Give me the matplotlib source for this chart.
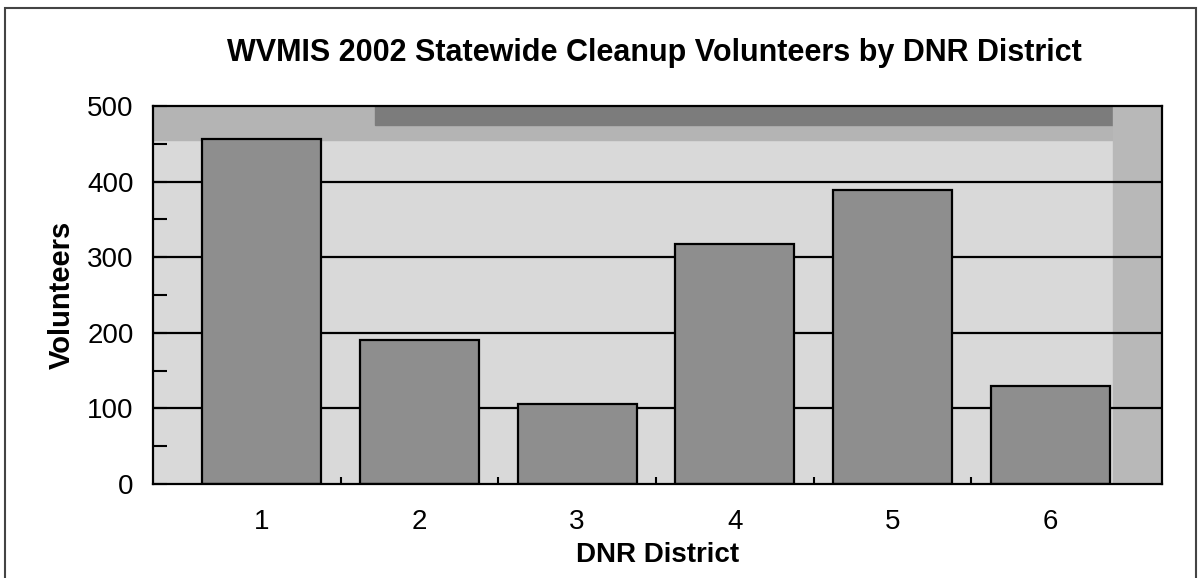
import matplotlib.pyplot as plt
from matplotlib.patches import Rectangle
from matplotlib.ticker import MultipleLocator, FixedLocator

districts = [1, 2, 3, 4, 5, 6]
volunteers = [457, 190, 106, 318, 389, 130]
yticks = [0, 100, 200, 300, 400, 500]

plt.rcParams['font.family'] = ['Liberation Sans', 'DejaVu Sans']

fig = plt.figure(figsize=(12.01, 5.78), dpi=100)
ax = fig.add_axes([0.1274, 0.1626, 0.8401, 0.654])

# background wall, faded grey like the scanned original
ax.set_facecolor('#d9d9d9')
ax.axhspan(455, 500, color='#b4b4b4', zorder=0)
ax.axhspan(475, 500, xmin=0.22, xmax=1, color='#7c7c7c', zorder=0)
ax.axvspan(6.4, 6.72, color='#b8b8b8', zorder=0)

# gridlines
for v in yticks[1:-1]:
    ax.axhline(v, color='black', lw=1.6, zorder=1)

ax.bar(districts, volunteers, width=0.755, color='#8e8e8e',
       edgecolor='black', linewidth=1.6, zorder=2)

ax.set_xlim(0.31, 6.71)
ax.set_ylim(0, 500)

ax.set_yticks(yticks)
ax.yaxis.set_minor_locator(MultipleLocator(50))
ax.set_xticks(districts)
ax.xaxis.set_minor_locator(FixedLocator([1.5, 2.5, 3.5, 4.5, 5.5]))

ax.tick_params(axis='y', which='both', direction='in', length=10, width=1.5,
               labelsize=20, pad=14)
ax.tick_params(axis='x', which='major', length=0, labelsize=20, pad=18)
ax.tick_params(axis='x', which='minor', direction='in', length=5, width=1.5)

for s in ax.spines.values():
    s.set_linewidth(1.6)

ax.set_ylabel('Volunteers', fontsize=21, fontweight='bold', labelpad=8)
ax.set_xlabel('DNR District', fontsize=20, fontweight='bold', labelpad=5)

fig.text(0.545, 1 - 53 / 578, 'WVMIS 2002 Statewide Cleanup Volunteers by DNR District',
         ha='center', va='center', fontsize=22, fontweight='bold')

# outer frame of the figure
fig.patches.append(Rectangle((0.004, -0.01), 0.992, 0.997, transform=fig.transFigure,
                             fill=False, edgecolor='#444444', linewidth=1.5))

fig.savefig('out.png', dpi=100)
